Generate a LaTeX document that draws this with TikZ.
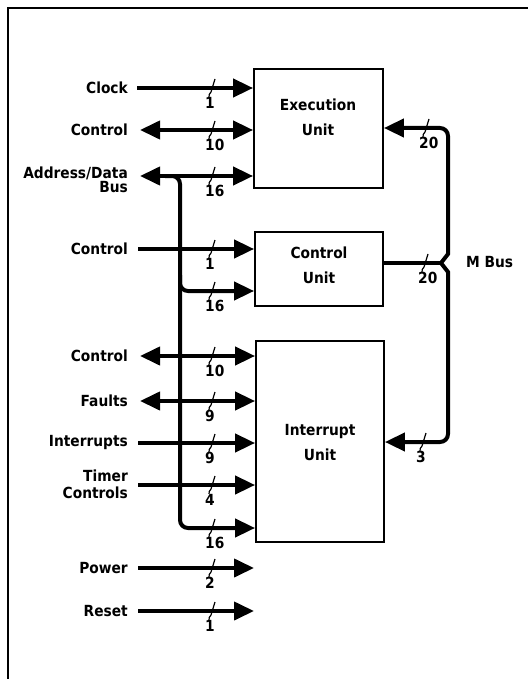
\documentclass[tikz,border=0pt]{standalone}
\usepackage{fontspec}
\setmainfont{DejaVu Sans Condensed}
\usetikzlibrary{arrows.meta}
\newcommand\bwidth[3]{%
  \draw[tick] (#1+3,#2-9) -- (#1-1,#2+4) .. controls (#1-2,#2+7) and (#1-4,#2+6) .. (#1-3,#2+9);
  \node[num] at (#1-7,#2+15) {#3};}
\begin{document}
\begin{tikzpicture}[x=1pt,y=-1pt,
  lab/.style={font=\fontsize{15.3}{15}\selectfont\bfseries, inner sep=0pt, align=right},
  boxtext/.style={font=\fontsize{15.3}{25}\selectfont\bfseries, inner sep=0pt, align=center},
  unit/.style={draw, line width=1.8pt, inner sep=0pt},
  wire/.style={line width=4pt},
  sig/.style={wire, -{Triangle[length=20pt,width=18pt]}},
  bidir/.style={wire, {Triangle[length=20pt,width=18pt]}-{Triangle[length=20pt,width=18pt]}},
  num/.style={font=\fontsize{15.3}{15}\selectfont\bfseries, inner sep=0pt, anchor=west},
  tick/.style={line width=1.2pt}
]
\useasboundingbox (0,0) rectangle (528,679);
% frame
\draw[line width=2pt] (8,679) -- (8,8) -- (528,8);

% units
\node[unit, minimum width=129pt, minimum height=119pt] (exec) at (318.5,128.5) {};
\node[unit, minimum width=128pt, minimum height=74pt] (ctrl) at (319,269) {};
\node[unit, minimum width=128pt, minimum height=201pt] (intr) at (320,441.5) {};
\node[boxtext] (execT) at (318,117) {Execution\\Unit};
\node[boxtext] (ctrlT) at (319,265) {Control\\Unit};
\node[boxtext] (intrT) at (320,443) {Interrupt\\Unit};

% left labels
\node[lab, anchor=east] (Lclk) at (128,88) {Clock};
\node[lab, anchor=east] (Lctl1) at (128,130) {Control};
\node[lab, anchor=base east, font=\fontsize{15.3}{14.5}\selectfont\bfseries] (Ladb) at (128,193) {Address/Data\\Bus};
\node[lab, anchor=east] (Lctl2) at (128,249) {Control};
\node[lab, anchor=east] (Lctl3) at (128,356) {Control};
\node[lab, anchor=east] (Lflt) at (128,401) {Faults};
\node[lab, anchor=east] (Lint) at (128,443) {Interrupts};
\node[lab, anchor=base east, font=\fontsize{15.3}{16.5}\selectfont\bfseries] (Ltmr) at (128,498) {Timer\\Controls};
\node[lab, anchor=east] (Lpwr) at (128,568) {Power};
\node[lab, anchor=east] (Lrst) at (128,611) {Reset};
\node[lab, anchor=west] (mbus) at (466,262) {M Bus};

% start / end coordinates
\coordinate (sclk) at (137,88);
\coordinate (sctl1) at (140,130);
\coordinate (sadb) at (140,176);
\coordinate (sctl2) at (138,249);
\coordinate (sctl3) at (140,356);
\coordinate (sflt) at (140,401);
\coordinate (sint) at (138,443);
\coordinate (stmr) at (138,485);
\coordinate (spwr) at (138,568);
\coordinate (srst) at (138,611);
\coordinate (epwr) at (254,568);
\coordinate (erst) at (254,611);
\coordinate (busTop) at (165,176);
\coordinate (busx) at (180,176);
\coordinate (j1) at (180,275);
\coordinate (ybr1) at (180,291);
\coordinate (ybr2) at (180,528);
\coordinate (mb) at (441,263);
\coordinate (mbTop) at (448,254);
\coordinate (mbBot) at (448,272);
\coordinate (mc1) at (448,128);
\coordinate (mc2) at (448,442);

% bus trunk
\draw[sig, rounded corners=8pt] (busTop) -- (busx) -- (ybr2) -- (intr.west |- ybr2);
\draw[sig, rounded corners=8pt] (j1) -- (ybr1) -- (ctrl.west |- ybr1);

% left signals
\draw[sig] (sclk) -- (exec.west |- sclk);
\draw[bidir] (sctl1) -- (exec.west |- sctl1);
\draw[bidir] (sadb) -- (exec.west |- sadb);
\draw[sig] (sctl2) -- (ctrl.west |- sctl2);
\draw[bidir] (sctl3) -- (intr.west |- sctl3);
\draw[bidir] (sflt) -- (intr.west |- sflt);
\draw[sig] (sint) -- (intr.west |- sint);
\draw[sig] (stmr) -- (intr.west |- stmr);
\draw[sig] (spwr) -- (epwr);
\draw[sig] (srst) -- (erst);

% M bus
\draw[wire] (ctrl.east |- mb) -- (mb);
\draw[sig] (mb) -- (mbTop) [rounded corners=8pt] -- (mc1) -- (exec.east |- mc1);
\draw[sig] (mb) -- (mbBot) [rounded corners=8pt] -- (mc2) -- (intr.east |- mc2);

% bus widths
\bwidth{212}{88}{1}
\bwidth{212}{130}{10}
\bwidth{212}{176}{16}
\bwidth{212}{249}{1}
\bwidth{212}{291}{16}
\bwidth{212}{356}{10}
\bwidth{212}{401}{9}
\bwidth{212}{443}{9}
\bwidth{212}{485}{4}
\bwidth{212}{528}{16}
\bwidth{212}{568}{2}
\bwidth{212}{611}{1}
\bwidth{426}{128}{20}
\bwidth{425}{263}{20}
\bwidth{423}{442}{3}
\end{tikzpicture}
\end{document}
